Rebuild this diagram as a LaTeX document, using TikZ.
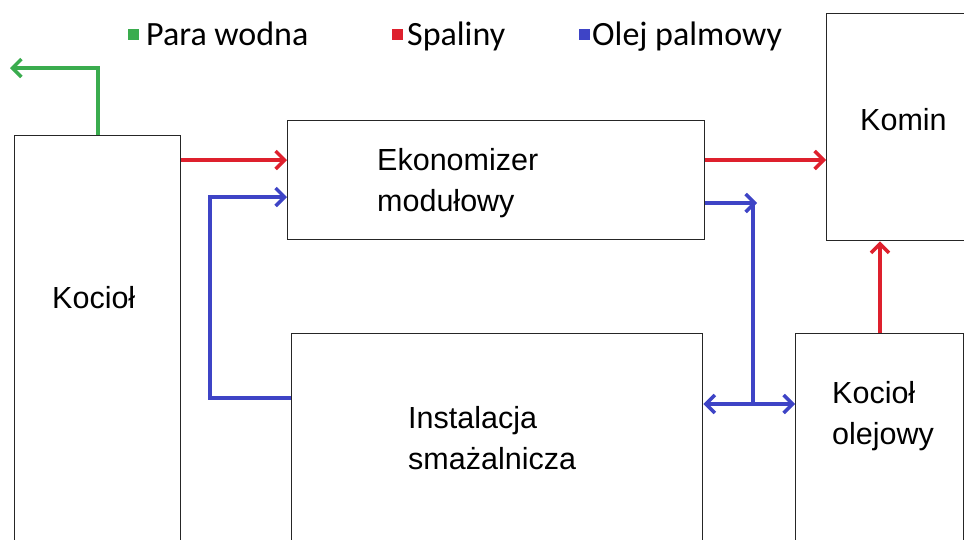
\documentclass[tikz,border=0pt]{standalone}
\usepackage{fontspec}
\setmainfont{Liberation Sans}
\newfontfamily\legendfont{Carlito}
\usetikzlibrary{arrows.meta}
\definecolor{steam}{RGB}{58,172,78}
\definecolor{flue}{RGB}{222,32,45}
\definecolor{oil}{RGB}{62,68,198}
\tikzset{
  box/.style={draw=black!85, line width=1.4pt, inner sep=0pt, anchor=north west},
  lbl/.style={anchor=base west, inner sep=0pt, align=left, font=\fontsize{30.5}{41}\selectfont},
  leg/.style={anchor=base west, inner sep=0pt, font=\legendfont\fontsize{34}{36}\selectfont},
  legsq/.style={inner sep=0pt, minimum size=11pt, anchor=north west},
  flow/.style={line width=4pt, -{Straight Barb[length=9pt,width=18pt,line width=3.5pt]}},
  flowline/.style={line width=4pt},
  flowboth/.style={line width=4pt, {Straight Barb[length=9pt,width=18pt,line width=3.5pt]}-{Straight Barb[length=9pt,width=18pt,line width=3.5pt]}}
}
\begin{document}
\begin{tikzpicture}[x=1pt,y=-1pt]
\clip (0,0) rectangle (964,539);
\fill[white] (0,0) rectangle (964,539);
% legend
\node[legsq, fill=steam] (sqA) at (128,29) {};
\node[leg] (legA) at (146,45) {Para wodna};
\node[legsq, fill=flue] (sqB) at (392,29) {};
\node[leg] (legB) at (407,45) {Spaliny};
\node[legsq, fill=oil] (sqC) at (579,29) {};
\node[leg] (legC) at (592,45) {Olej palmowy};
% boxes
\node[box, minimum width=166pt, minimum height=430pt] (kociol) at (14,135) {};
\node[box, minimum width=417pt, minimum height=119pt] (eko) at (287,120) {};
\node[box, minimum width=150pt, minimum height=227pt] (komin) at (826,13) {};
\node[box, minimum width=411pt, minimum height=230pt] (inst) at (291,333) {};
\node[box, minimum width=168pt, minimum height=230pt] (olej) at (795,333) {};
% texts (multi-line nodes: base = last line)
\node[lbl] (tKociol) at (52,308) {Kocioł};
\node[lbl] (tEko) at (377,211) {Ekonomizer\\modułowy};
\node[lbl] (tKomin) at (860,130) {Komin};
\node[lbl] (tInst) at (408,469) {Instalacja\\smażalnicza};
\node[lbl] (tOlej) at (832,444) {Kocioł\\olejowy};
% connectors
\coordinate (steamEnd) at (10,68);
\coordinate (oilTurn) at (753,203);
\draw[flow, steam] (kociol.north) |- (steamEnd);
\draw[flow, flue] (kociol.east |- 0,160) -- (eko.west |- 0,160);
\draw[flow, flue] (eko.east |- 0,160) -- (komin.west |- 0,160);
\draw[flow, flue] (olej.north -| 880,0) -- (komin.south -| 880,0);
\draw[flow, oil] (inst.west |- 0,398) -- (210,398) -- (210,197) -- (eko.west |- 0,197);
\draw[flow, oil] (eko.east |- 0,203) -- ([xshift=4pt]oilTurn);
\draw[flowline, oil] (oilTurn) -- (753,404);
\draw[flowboth, oil] (inst.east |- 0,404) -- (olej.west |- 0,404);
\end{tikzpicture}
\end{document}
